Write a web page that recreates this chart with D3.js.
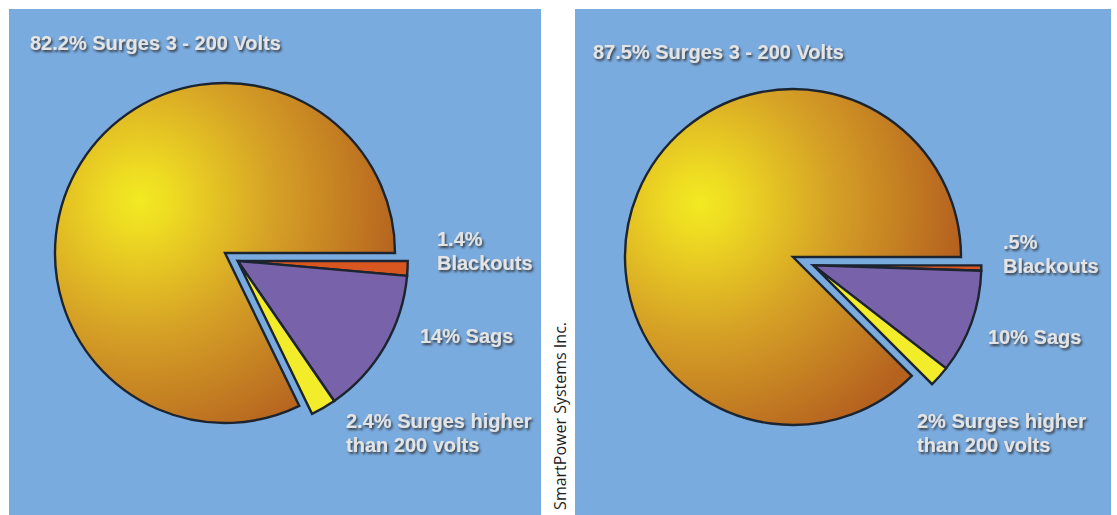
<!DOCTYPE html>
<html>
<head>
<meta charset="utf-8">
<script src="https://cdn.jsdelivr.net/npm/d3@7"></script>
<style>
  body { margin: 0; background: #fff; }
  svg { display: block; }
  .lbl { font-family: "Liberation Sans", Arial, sans-serif; font-weight: bold; font-size: 20px; fill: #e4e4e4; }
  .credit { font-family: "Open Sans", "Noto Sans", sans-serif; font-size: 16px; fill: #222; }
</style>
</head>
<body>
<script>
// slice order runs clockwise from 3 o'clock
var categories = ["Blackouts", "Sags", "Surges higher than 200 volts", "Surges 3 - 200 Volts"]
var leftValues = [1.4, 14, 2.4, 82.2]
var rightValues = [0.5, 10, 2, 87.5]
var leftLabels = [["1.4%", "Blackouts"], ["14% Sags"], ["2.4% Surges higher", "than 200 volts"], ["82.2% Surges 3 - 200 Volts"]]
var rightLabels = [[".5%", "Blackouts"], ["10% Sags"], ["2% Surges higher", "than 200 volts"], ["87.5% Surges 3 - 200 Volts"]]
var sliceColors = ["#d8561f", "#7862aa", "#f3ec2a", "url(#gold-"]

var W = 1117, H = 515

var panels = [
  {id: "l", x: 9, w: 532, cx: 225, cy: 253, r: 170, explode: 15, hx: -85, hy: -53,
   values: leftValues, labels: leftLabels,
   pos: [[437, 246], [420, 343], [346, 428], [30, 50]]},
  {id: "r", x: 575, w: 536, cx: 793, cy: 257, r: 168, explode: 22, hx: -93, hy: -54,
   values: rightValues, labels: rightLabels,
   pos: [[1003, 249], [988, 344], [917, 428], [593, 59]]}
]

var svg = d3.select("body").append("svg")
  .attr("width", W)
  .attr("height", H)

var defs = svg.append("defs")

var shadow = defs.append("filter")
  .attr("id", "tshadow")
  .attr("x", "-10%").attr("y", "-30%")
  .attr("width", "120%").attr("height", "170%")
shadow.append("feDropShadow")
  .attr("dx", 1.5).attr("dy", 2)
  .attr("stdDeviation", 1)
  .attr("flood-color", "#2a2a2a")
  .attr("flood-opacity", 0.85)

panels.forEach(function(p){
  var g = defs.append("radialGradient")
    .attr("id", "gold-" + p.id)
    .attr("gradientUnits", "userSpaceOnUse")
    .attr("cx", p.hx).attr("cy", p.hy)
    .attr("fx", p.hx).attr("fy", p.hy)
    .attr("r", p.r * 1.55)
  g.append("stop").attr("offset", "0").attr("stop-color", "#f2ea22")
  g.append("stop").attr("offset", "0.12").attr("stop-color", "#eedb22")
  g.append("stop").attr("offset", "0.5").attr("stop-color", "#d6a226")
  g.append("stop").attr("offset", "1").attr("stop-color", "#b5621f")
})

var pie = d3.pie()
  .sort(null)
  .value(function(d){ return d })
  .startAngle(Math.PI / 2)
  .endAngle(Math.PI / 2 + 2 * Math.PI)

panels.forEach(function(p){
  svg.append("rect")
    .attr("x", p.x)
    .attr("y", 9)
    .attr("width", p.w)
    .attr("height", H)
    .attr("fill", "#7aabdf")

  var arcs = pie(p.values)
  var arc = d3.arc().innerRadius(0).outerRadius(p.r)

  // the small slices are pulled out together along their common middle
  var small = arcs.slice(0, 3)
  var mid = (small[0].startAngle + small[2].endAngle) / 2
  var ox = Math.sin(mid) * p.explode
  var oy = -Math.cos(mid) * p.explode

  var pieG = svg.append("g")
    .attr("transform", "translate(" + p.cx + "," + p.cy + ")")

  pieG.selectAll("path.slice")
    .data(arcs)
    .enter()
    .append("path")
    .classed("slice", true)
    .attr("d", arc)
    .attr("transform", function(d, i){
      return i < 3 ? "translate(" + ox + "," + oy + ")" : null
    })
    .attr("fill", function(d, i){
      return i < 3 ? sliceColors[i] : sliceColors[i] + p.id + ")"
    })
    .attr("stroke", "#1c2430")
    .attr("stroke-width", 2.4)
    .attr("stroke-linejoin", "miter")

  p.labels.forEach(function(lines, i){
    var t = svg.append("text")
      .classed("lbl", true)
      .attr("x", p.pos[i][0])
      .attr("y", p.pos[i][1])
      .attr("filter", "url(#tshadow)")
    lines.forEach(function(line, j){
      t.append("tspan")
        .attr("x", p.pos[i][0])
        .attr("dy", j === 0 ? 0 : 24)
        .text(line)
    })
  })
})

svg.append("text")
  .classed("credit", true)
  .attr("transform", "translate(566,322) rotate(-90)")
  .attr("text-anchor", "end")
  .text("SmartPower Systems Inc.")
</script>
</body>
</html>
